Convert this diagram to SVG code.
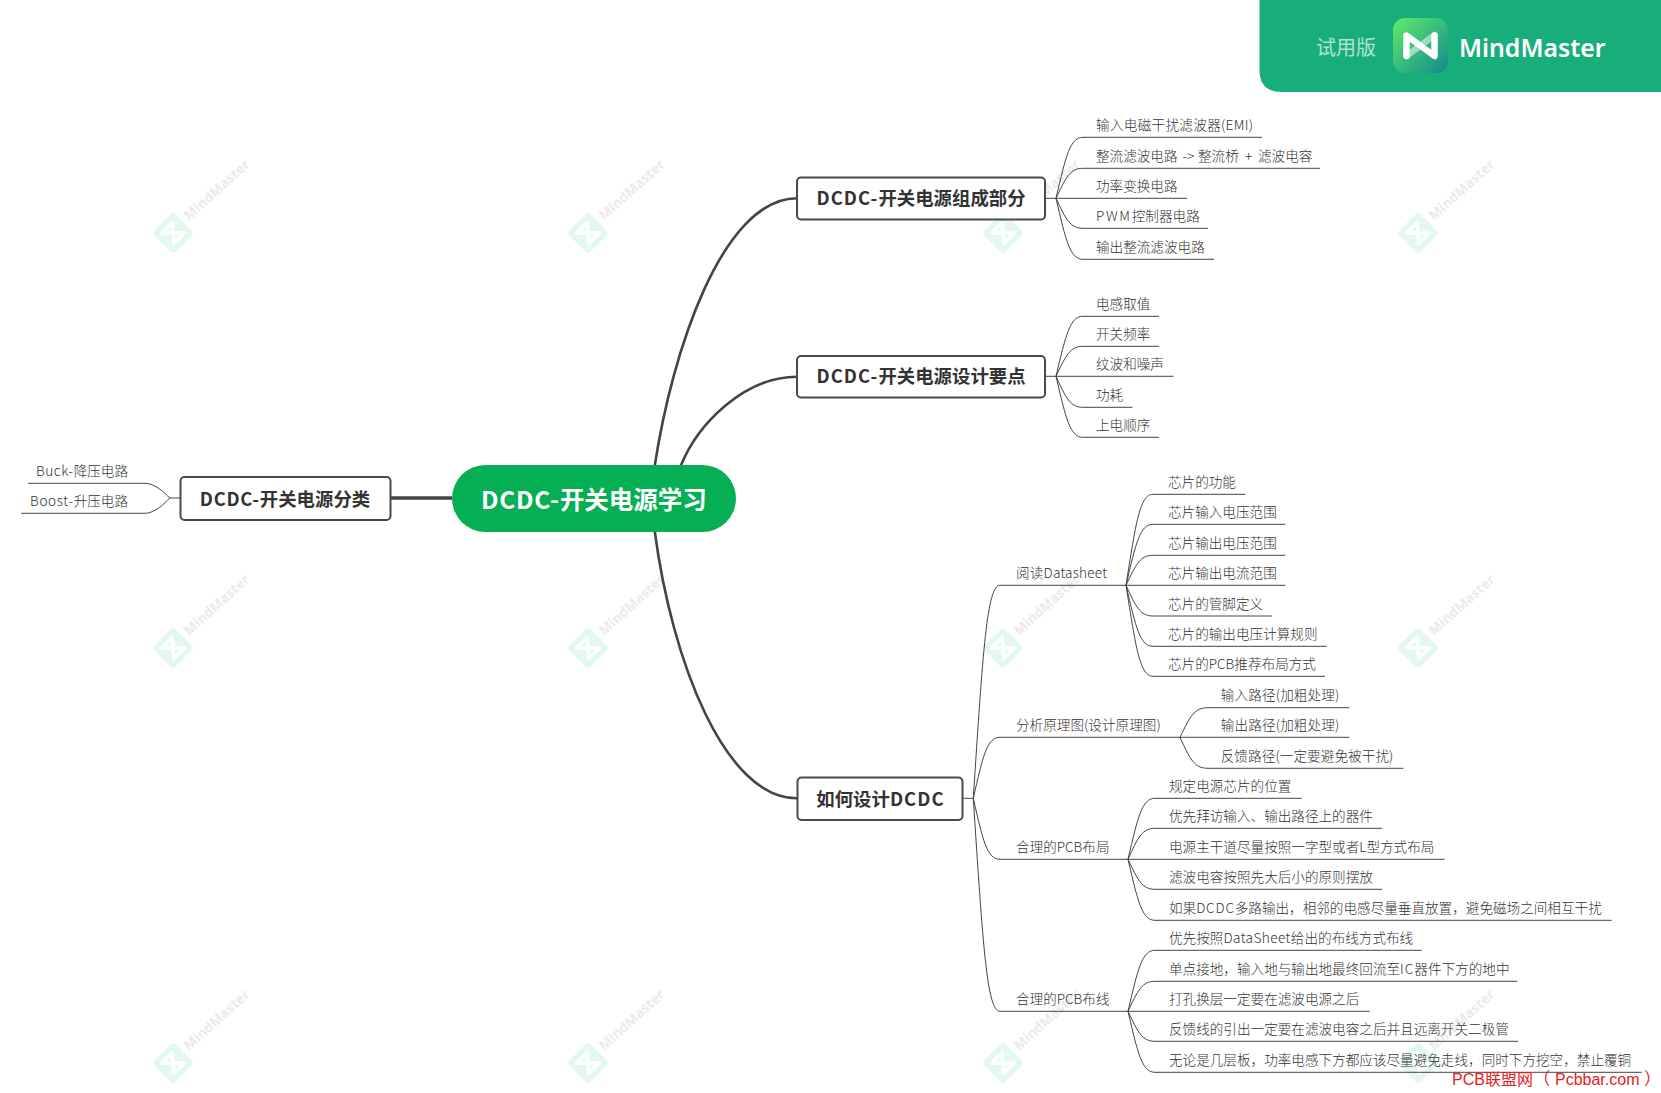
<svg xmlns="http://www.w3.org/2000/svg" xmlns:xlink="http://www.w3.org/1999/xlink" width="1661" height="1093" viewBox="0 0 1661 1093">
<style>
text{font-family:"Noto Sans CJK SC","Noto Sans",sans-serif}
.leaf{font-size:13.6px;fill:#333;font-weight:300}
.topic{font-size:18.4px;fill:#333;font-weight:700;text-anchor:middle}
.box{fill:#fff;stroke:#4a4a4a;stroke-width:2}
.thick{fill:none;stroke:#444;stroke-width:2.6}
.thin{fill:none;stroke:#444;stroke-width:1}
.ls{letter-spacing:1.1px}
</style>
<defs>
<linearGradient id="lg" x1="0" y1="0" x2="1" y2="1"><stop offset="0" stop-color="#62ec6c"/><stop offset="1" stop-color="#0f8a90"/></linearGradient>
<g id="wm">
<rect x="-15" y="-15" width="30" height="30" rx="4" transform="rotate(45)" fill="#e4f8ee"/>
<path d="M-8,-7 L-8,8 L8,-8 L8,7 M-8,-7 L8,7" transform="rotate(45)" fill="none" stroke="#fff" stroke-width="3.5" stroke-linejoin="round" stroke-linecap="round"/>
<text x="16" y="-12" transform="rotate(-42 16 -12)" style="font-family:'Noto Sans',sans-serif;font-size:13.7px;font-weight:700;fill:#ebebeb">MindMaster</text>
</g>
</defs>
<rect width="1661" height="1093" fill="#fff"/>
<g id="watermarks">
<use href="#wm" x="173" y="233"/><use href="#wm" x="588" y="233"/><use href="#wm" x="1003" y="233"/><use href="#wm" x="1418" y="233"/>
<use href="#wm" x="173" y="648"/><use href="#wm" x="588" y="648"/><use href="#wm" x="1003" y="648"/><use href="#wm" x="1418" y="648"/>
<use href="#wm" x="173" y="1063"/><use href="#wm" x="588" y="1063"/><use href="#wm" x="1003" y="1063"/><use href="#wm" x="1418" y="1063"/>
</g>
<g id="connectors">
<path class="thick" d="M654.7,466 C672,352 722,198.3 797,198.3"/>
<path class="thick" d="M680.7,466 C698,423 745,376.7 797,376.7"/>
<path class="thick" d="M654.7,531 C672,662 725,798.3 797,798.3"/>
<path class="thick" style="stroke-width:3.4" d="M390,498 H452"/>
<path class="thin" d="M180,498 H169.7 C165,493 155,483.3 145,483.3 H28 M169.7,498 C165,503 155,513.3 145,513.3 H21.3"/>
<path class="thin" d="M1045,198.3 H1056 M1056,198.3 C1066,155.6 1070,137.3 1083,137.3 H1262 M1056,198.3 C1066,177.3 1070,168.3 1083,168.3 H1320 M1056,198.3 H1187 M1056,198.3 C1066,219.3 1070,228.3 1083,228.3 H1208 M1056,198.3 C1066,241 1070,259.3 1083,259.3 H1214"/>
<path class="thin" d="M1045,376.3 H1056 M1056,376.3 C1066,334.3 1070,316.3 1083,316.3 H1159 M1056,376.3 C1066,355.3 1070,346.3 1083,346.3 H1159 M1056,376.3 H1173.6 M1056,376.3 C1066,398 1070,407.3 1083,407.3 H1132.5 M1056,376.3 C1066,419 1070,437.3 1083,437.3 H1159"/>
<path class="thin" d="M963,798.3 H973.3 M973.3,798.3 C983,649 987,585.3 1000,585.3 H1126 M973.3,798.3 C983,755.6 987,737.3 1000,737.3 H1180 M973.3,798.3 C983,841 987,859.3 1000,859.3 H1128 M973.3,798.3 C983,947.4 987,1011.3 1000,1011.3 H1128"/>
<path class="thin" d="M1126,585.3 C1136,521.6 1140,494.3 1153,494.3 H1245.3 M1126,585.3 C1136,542.6 1140,524.3 1153,524.3 H1285.3 M1126,585.3 C1136,564.3 1140,555.3 1153,555.3 H1285.3 M1126,585.3 H1285.3 M1126,585.3 C1136,606.9 1140,616 1153,616 H1272 M1126,585.3 C1136,628 1140,646.3 1153,646.3 H1326.7 M1126,585.3 C1136,649 1140,676.3 1153,676.3 H1325"/>
<path class="thin" d="M1180,737.3 C1190,716.6 1194,707.7 1208,707.7 H1349.3 M1180,737.3 H1349.3 M1180,737.3 C1190,759 1194,768.3 1208,768.3 H1403.3"/>
<path class="thin" d="M1128,859.3 C1138,816.6 1142,798.3 1155,798.3 H1301.7 M1128,859.3 C1138,837.6 1142,828.3 1155,828.3 H1382.3 M1128,859.3 H1444.7 M1128,859.3 C1138,880.3 1142,889.3 1155,889.3 H1382.3 M1128,859.3 C1138,902 1142,920.3 1155,920.3 H1611.7"/>
<path class="thin" d="M1128,1011.3 C1138,968.6 1142,950.3 1155,950.3 H1421.7 M1128,1011.3 C1138,990.3 1142,981.3 1155,981.3 H1517.3 M1128,1011.3 H1369.7 M1128,1011.3 C1138,1032.3 1142,1041.3 1155,1041.3 H1518.3 M1128,1011.3 C1138,1054 1142,1072.3 1155,1072.3 H1641.7"/>
</g>
<g id="root"><rect x="452" y="465" width="284" height="67" rx="33.5" fill="#06ae54"/><text x="594" y="509" text-anchor="middle" style="font-size:24.5px;font-weight:700;fill:#fff"><tspan letter-spacing=".7">DCDC-</tspan>开关电源学习</text></g>
<g id="topic1"><rect class="box" x="797" y="177.5" width="248" height="42" rx="4"/><text class="topic" x="921" y="205"><tspan class="ls">DCDC-</tspan>开关电源组成部分</text></g>
<g id="topic2"><rect class="box" x="797" y="356" width="248" height="41.5" rx="4"/><text class="topic" x="921" y="383"><tspan class="ls">DCDC-</tspan>开关电源设计要点</text></g>
<g id="topic3"><rect class="box" x="797.5" y="777.5" width="165" height="42.5" rx="4"/><text class="topic" x="880.5" y="806">如何设计<tspan class="ls">DCDC</tspan></text></g>
<g id="topic4"><rect class="box" x="180.5" y="477" width="210" height="43" rx="4"/><text class="topic" x="285" y="506"><tspan letter-spacing=".7">DCDC-</tspan>开关电源分类</text></g>
<g id="leaves">
<text class="leaf" x="128" y="476" text-anchor="end"><tspan letter-spacing=".6">Buck-</tspan>降压电路</text>
<text class="leaf" x="128" y="506" text-anchor="end"><tspan letter-spacing=".65">Boost-</tspan>升压电路</text>
<text class="leaf" x="1096" y="130" textLength="157">输入电磁干扰滤波器(EMI)</text>
<text class="leaf" y="161"><tspan x="1096">整流滤波电路 </tspan><tspan x="1182.5">-&gt;</tspan><tspan x="1198">整流桥 </tspan><tspan x="1245">+ </tspan><tspan x="1258">滤波电容</tspan></text>
<text class="leaf" x="1096" y="191">功率变换电路</text>
<text class="leaf" x="1096" y="221"><tspan letter-spacing="1.7">PWM</tspan>控制器电路</text>
<text class="leaf" x="1096" y="252">输出整流滤波电路</text>
<text class="leaf" x="1096" y="309">电感取值</text>
<text class="leaf" x="1096" y="339">开关频率</text>
<text class="leaf" x="1096" y="369">纹波和噪声</text>
<text class="leaf" x="1096" y="400">功耗</text>
<text class="leaf" x="1096" y="430">上电顺序</text>
<text class="leaf" x="1016" y="578" textLength="91">阅读Datasheet</text>
<text class="leaf" x="1168" y="487">芯片的功能</text>
<text class="leaf" x="1168" y="517">芯片输入电压范围</text>
<text class="leaf" x="1168" y="548">芯片输出电压范围</text>
<text class="leaf" x="1168" y="578">芯片输出电流范围</text>
<text class="leaf" x="1168" y="609">芯片的管脚定义</text>
<text class="leaf" x="1168" y="639">芯片的输出电压计算规则</text>
<text class="leaf" x="1168" y="669">芯片的PCB推荐布局方式</text>
<text class="leaf" x="1016" y="730" textLength="144.7">分析原理图(设计原理图)</text>
<text class="leaf" x="1220.7" y="700" textLength="118.7">输入路径(加粗处理)</text>
<text class="leaf" x="1220.7" y="730" textLength="118.7">输出路径(加粗处理)</text>
<text class="leaf" x="1220.7" y="761" textLength="172.7">反馈路径(一定要避免被干扰)</text>
<text class="leaf" x="1016" y="852">合理的PCB布局</text>
<text class="leaf" x="1169" y="791">规定电源芯片的位置</text>
<text class="leaf" x="1169" y="821">优先拜访输入、输出路径上的器件</text>
<text class="leaf" x="1169" y="852">电源主干道尽量按照一字型或者L型方式布局</text>
<text class="leaf" x="1169" y="882">滤波电容按照先大后小的原则摆放</text>
<text class="leaf" x="1169" y="913">如果<tspan letter-spacing=".8">DCDC</tspan>多路输出，相邻的电感尽量垂直放置，避免磁场之间相互干扰</text>
<text class="leaf" x="1016" y="1004">合理的PCB布线</text>
<text class="leaf" x="1169" y="943">优先按照<tspan letter-spacing=".45">DataSheet</tspan>给出的布线方式布线</text>
<text class="leaf" x="1169" y="974">单点接地，输入地与输出地最终回流至<tspan letter-spacing="1">IC</tspan>器件下方的地中</text>
<text class="leaf" x="1169" y="1004">打孔换层一定要在滤波电源之后</text>
<text class="leaf" x="1169" y="1034">反馈线的引出一定要在滤波电容之后并且远离开关二极管</text>
<text class="leaf" x="1169" y="1065">无论是几层板，功率电感下方都应该尽量避免走线，同时下方挖空，禁止覆铜</text>
</g>
<g id="badge">
<path d="M1259.5,0 H1661 V92 H1282 Q1259.5,92 1259.5,70 Z" fill="#17ae7a"/>
<text x="1316" y="55" style="font-size:20px;fill:#fff;fill-opacity:.68">试用版</text>
<rect x="1393" y="18" width="55" height="55" rx="12" fill="url(#lg)"/>
<path d="M1406.5,56 L1434.5,35" fill="none" stroke="#fff" stroke-opacity=".5" stroke-width="6.5" stroke-linecap="round"/>
<path d="M1406.5,56 V35.5 L1434.5,56 V35.5" fill="none" stroke="#fff" stroke-width="6.5" stroke-linecap="round" stroke-linejoin="round"/>
<text x="1459" y="57" style="font-family:'Noto Sans',sans-serif;font-size:24.8px;font-weight:600;fill:#fff">MindMaster</text>
</g>
<text id="credit" y="1085" style="font-family:'Liberation Sans','Noto Sans CJK SC',sans-serif;font-size:16.6px;fill:#e8201c"><tspan x="1452" font-size="16">PCB联盟网</tspan><tspan x="1533.5">（ </tspan><tspan x="1555" font-size="16">Pcbbar.com </tspan><tspan x="1644.3">）</tspan></text>
</svg>
